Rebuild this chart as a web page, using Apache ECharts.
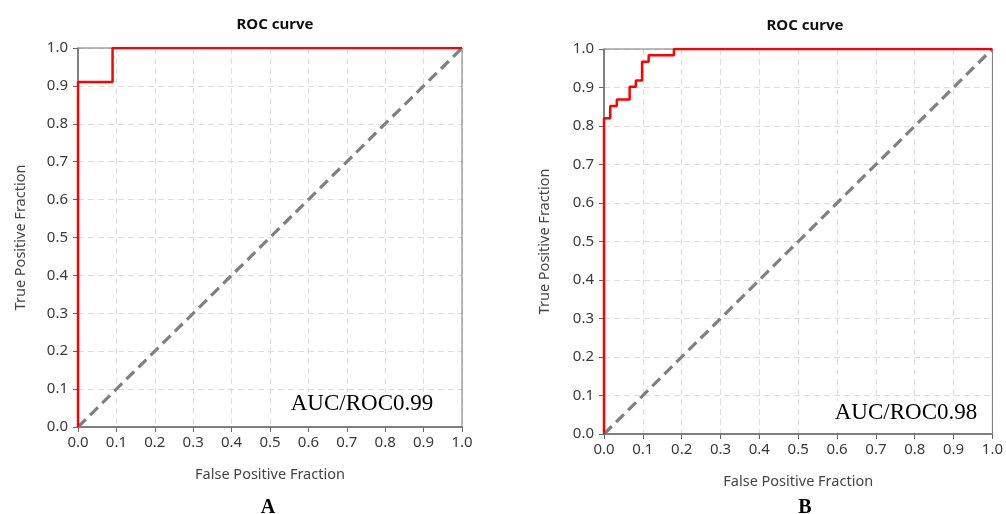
<html>
<head>
<meta charset="utf-8">
<script src="https://cdn.jsdelivr.net/npm/echarts@6/dist/echarts.min.js"></script>
</head>
<body>
<style>
    html, body, #main {
        width: 100%;
        height: 100%;
        margin: 0;
        background: #fff;
    }
</style>
<div id="main"></div>
<script>
    // ROC curve A (fpr / tpr corner points)
    var fprA = [0, 0, 0.09, 0.09, 1];
    var tprA = [0, 0.91, 0.91, 1, 1];

    // ROC curve B
    var fprB = [0, 0, 0.016, 0.016, 0.033, 0.033, 0.066, 0.066, 0.082, 0.082, 0.098, 0.098, 0.115, 0.115, 0.18, 0.18, 1];
    var tprB = [0, 0.82, 0.82, 0.852, 0.852, 0.869, 0.869, 0.902, 0.902, 0.918, 0.918, 0.967, 0.967, 0.984, 0.984, 1, 1];

    // chance line
    var chanceX = [0, 1];
    var chanceY = [0, 1];

    var aucLabels = ['AUC/ROC0.99', 'AUC/ROC0.98'];
    var panelLabels = ['A', 'B'];

    function zip(xs, ys) {
        return xs.map(function (x, i) { return [x, ys[i]]; });
    }

    var chart = echarts.init(document.getElementById('main'));

    var font = '"Noto Sans", sans-serif';

    function xAxis(idx, gap) {
        return {
            type: 'value', gridIndex: idx, min: 0, max: 1, interval: 0.1,
            name: 'False Positive Fraction', nameLocation: 'middle', nameGap: gap,
            nameTextStyle: { fontFamily: font, fontSize: 14.5, color: '#444' },
            axisLine: { lineStyle: { color: '#666', width: 1.5 } },
            axisTick: { show: true, length: 5, lineStyle: { color: '#666' } },
            axisLabel: { fontFamily: font, fontSize: 15, color: '#3a3a3a', margin: 8,
                formatter: function (v) { return v.toFixed(1); } },
            splitLine: { show: true, lineStyle: { color: '#ddd', type: [6, 4] } }
        };
    }

    function yAxis(idx, gap) {
        return {
            type: 'value', gridIndex: idx, min: 0, max: 1, interval: 0.1,
            name: 'True Positive Fraction', nameLocation: 'middle', nameGap: gap,
            nameTextStyle: { fontFamily: font, fontSize: 14.5, color: '#444' },
            axisLine: { show: true, lineStyle: { color: '#666', width: 1.5 } },
            axisTick: { show: true, length: 5, lineStyle: { color: '#666' } },
            axisLabel: { fontFamily: font, fontSize: 15, color: '#3a3a3a', margin: 10,
                formatter: function (v) { return v.toFixed(1); } },
            splitLine: { show: true, lineStyle: { color: '#ddd', type: [6, 4] } }
        };
    }

    function rocSeries(idx, data) {
        return {
            type: 'line', xAxisIndex: idx, yAxisIndex: idx, data: data,
            symbol: 'none', z: 5, silent: true,
            lineStyle: { color: '#ff0000', width: 2.5 }
        };
    }

    function chanceSeries(idx) {
        return {
            type: 'line', xAxisIndex: idx, yAxisIndex: idx, data: zip(chanceX, chanceY),
            symbol: 'none', z: 4, silent: true,
            lineStyle: { color: '#808080', width: 3.2, type: [11, 6] }
        };
    }

    function aucText(cx, cy, bx, by, bw, bh, txt) {
        return [
            { type: 'rect', shape: { x: bx, y: by, width: bw, height: bh },
              style: { fill: '#fff' }, z: 3 },
            { type: 'text', x: cx, y: cy, z: 10,
              style: { text: txt, fill: '#000', font: '23px "Liberation Serif", serif',
                       textAlign: 'center', textVerticalAlign: 'middle' } }
        ];
    }

    var option = {
        animation: false,
        backgroundColor: '#fff',
        title: [
            { text: 'ROC curve', left: 270, top: 12, textAlign: 'center',
              textStyle: { fontFamily: font, fontSize: 15, fontWeight: 'bold', color: '#111' } },
            { text: 'ROC curve', left: 800, top: 13, textAlign: 'center',
              textStyle: { fontFamily: font, fontSize: 15, fontWeight: 'bold', color: '#111' } },
            { text: panelLabels[0], left: 263, top: 493, textAlign: 'center',
              textStyle: { fontFamily: '"Liberation Serif", serif', fontSize: 20, fontWeight: 'bold', color: '#000' } },
            { text: panelLabels[1], left: 800, top: 493, textAlign: 'center',
              textStyle: { fontFamily: '"Liberation Serif", serif', fontSize: 20, fontWeight: 'bold', color: '#000' } }
        ],
        grid: [
            { left: 78, right: 544, top: 48, bottom: 87, show: true, borderColor: '#777', borderWidth: 1, z: 1 },
            { left: 604, right: 11, top: 49, bottom: 80, show: true, borderColor: '#777', borderWidth: 1, z: 1 }
        ],
        xAxis: [xAxis(0, 40), xAxis(1, 40)],
        yAxis: [yAxis(0, 50), yAxis(1, 52)],
        series: [
            chanceSeries(0),
            rocSeries(0, zip(fprA, tprA)),
            chanceSeries(1),
            rocSeries(1, zip(fprB, tprB))
        ],
        graphic: aucText(362, 404, 282, 392, 175, 32, aucLabels[0])
            .concat(aucText(906, 413, 826, 401, 165, 31, aucLabels[1]))
    };

    chart.setOption(option);

    window.onresize = function () {
        chart.resize();
    }
</script>
</body>
</html>
